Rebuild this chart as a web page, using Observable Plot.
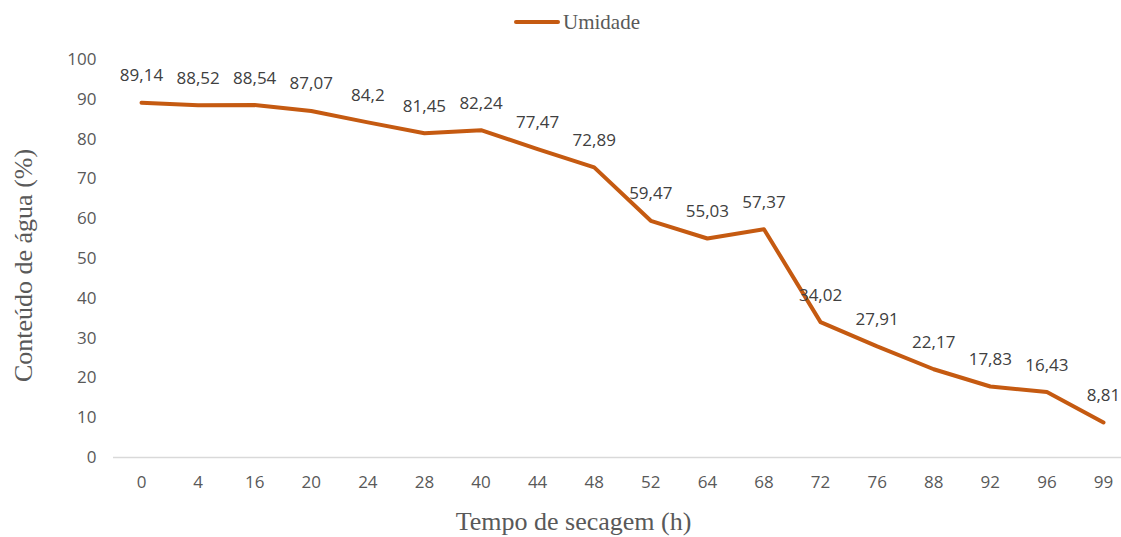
<!DOCTYPE html>
<html>
<head>
<meta charset="utf-8">
<script src="https://cdn.jsdelivr.net/npm/d3@7"></script>
<script src="https://cdn.jsdelivr.net/npm/@observablehq/plot@0.6"></script>
<style>
  html, body { margin: 0; padding: 0; background: #fff; }
  #wrap { width: 1121px; height: 537px; overflow: hidden; position: relative; }
  #legend { position: relative; height: 44px; }
  #legend .sw { position: absolute; left: 514px; top: 20px; width: 46px; height: 4px; background: #C55A11; border-radius: 2px; }
  #legend .lb { position: absolute; left: 563px; top: 8px; font-family: "Liberation Serif", serif; font-size: 21px; color: #595959; line-height: 28px; }
  svg { display: block; }
</style>
</head>
<body>
<div id="wrap">
  <div id="legend"><div class="sw"></div><div class="lb">Umidade</div></div>
  <div id="chart"></div>
</div>
<script>
const times = ["0","4","16","20","24","28","40","44","48","52","64","68","72","76","88","92","96","99"];
const moisture = [89.14, 88.52, 88.54, 87.07, 84.2, 81.45, 82.24, 77.47, 72.89, 59.47, 55.03, 57.37, 34.02, 27.91, 22.17, 17.83, 16.43, 8.81];
const yTicks = [0,10,20,30,40,50,60,70,80,90,100];
const seriesName = "Umidade";
const xTitle = "Tempo de secagem (h)";
const yTitle = "Conteúdo de água (%)";

const data = times.map((t, i) => ({t, v: moisture[i]}));
const fmt = v => String(v).replace(".", ",");

const plot = Plot.plot({
  width: 1121,
  height: 493,
  marginTop: 15,
  marginBottom: 80,
  marginLeft: 113,
  marginRight: 0,
  style: {fontFamily: "'Open Sans', sans-serif", fontSize: "17px", color: "#595959", background: "#fff"},
  x: {type: "point", domain: times, range: [141, 1103], padding: 0, round: false, label: null},
  y: {domain: [0, 100], label: null},
  marks: [
    Plot.ruleY([0], {stroke: "#D9D9D9", strokeWidth: 1.5}),
    Plot.axisY({ticks: yTicks, tickSize: 0, tickPadding: 17, label: null, fill: "#595959", fontSize: 17}),
    Plot.axisX({tickSize: 0, tickPadding: 18, label: null, fill: "#595959", fontSize: 17}),
    Plot.line(data, {x: "t", y: "v", stroke: "#C55A11", strokeWidth: 4, strokeLinejoin: "round", strokeLinecap: "round"}),
    Plot.text(data, {x: "t", y: "v", text: d => fmt(d.v), dy: -27, lineAnchor: "middle", fill: "#404040", fontSize: 17}),
    Plot.text([yTitle], {text: d => d, frameAnchor: "left", rotate: -90, dx: -90, dy: 7, textAnchor: "middle", lineAnchor: "middle", fontFamily: "'Liberation Serif', serif", fontSize: 26, fill: "#595959"}),
    Plot.text([xTitle], {text: d => d, frameAnchor: "bottom", dx: -44, dy: 64, textAnchor: "middle", lineAnchor: "middle", fontFamily: "'Liberation Serif', serif", fontSize: 26, fill: "#595959"})
  ]
});
document.getElementById("chart").appendChild(plot);
</script>
</body>
</html>
